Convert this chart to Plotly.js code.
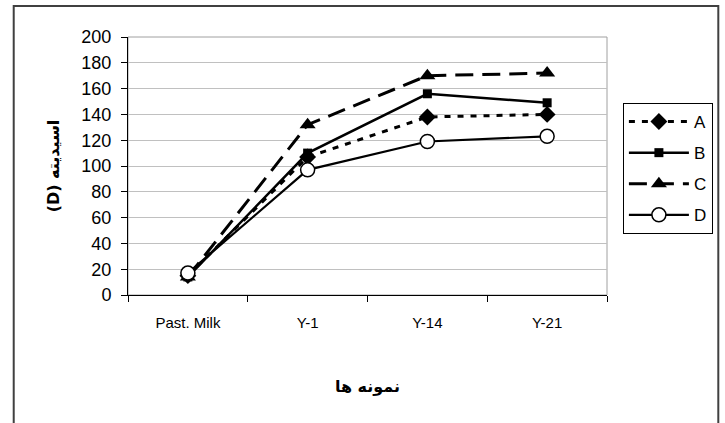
<!DOCTYPE html>
<html>
<head>
<meta charset="utf-8">
<script src="https://cdn.plot.ly/plotly-3.0.1.min.js"></script>
<style>
html,body{margin:0;padding:0;background:#fff;}
#chart{width:725px;height:423px;}
</style>
</head>
<body>
<div id="chart"></div>
<script>
const categories = ['Past. Milk', 'Y-1', 'Y-14', 'Y-21'];
const seriesA = [15, 107, 138, 140];
const seriesB = [14, 110, 156, 149];
const seriesC = [14, 132, 170, 172];
const seriesD = [17, 97, 119, 123];
const yTicks = [0, 20, 40, 60, 80, 100, 120, 140, 160, 180, 200];

const L = 128, R = 610, T = 37, B = 295, W = 725, H = 423;
const px = v => (v - L) / (R - L);
const py = v => (B - v) / (B - T);

const traces = [
  {name: 'A', y: seriesA, line: {color: '#000', width: 3, dash: '6px,7px'},
   marker: {symbol: 'diamond', size: 13, color: '#000'}},
  {name: 'B', y: seriesB, line: {color: '#000', width: 2.5, dash: 'solid'},
   marker: {symbol: 'square', size: 9, color: '#000'}},
  {name: 'C', y: seriesC, line: {color: '#000', width: 3, dash: '18px,9px'},
   marker: {symbol: 'triangle-up', size: 14, color: '#000'}},
  {name: 'D', y: seriesD, line: {color: '#000', width: 2.2, dash: 'solid'},
   marker: {symbol: 'circle', size: 14, color: '#fff', line: {color: '#000', width: 1.5}}}
].map((t, i) => Object.assign({
  type: 'scatter', mode: 'lines+markers', x: categories, legendgroup: 'g' + i
}, t));

const layout = {
  width: W, height: H,
  margin: {l: L, r: W - R, t: T, b: H - B},
  paper_bgcolor: '#fff', plot_bgcolor: '#fff',
  font: {family: 'Liberation Sans, Arial, sans-serif', color: '#000'},
  showlegend: true,
  legend: {
    x: px(626), y: py(103), xanchor: 'left', yanchor: 'top',
    bordercolor: '#000', borderwidth: 1, bgcolor: '#fff',
    font: {size: 17, color: '#000'}, tracegroupgap: 6, itemwidth: 60
  },
  xaxis: {
    type: 'category', range: [-0.5, 3.5], tickson: 'boundaries',
    ticks: 'outside', ticklen: 6, tickcolor: '#000', tickwidth: 1,
    showline: true, linecolor: '#000', linewidth: 1,
    showgrid: false, zeroline: false,
    tickfont: {size: 15}, ticklabelstandoff: 14,
    title: {text: '<b>نمونه ها</b>', font: {size: 16, family: 'DejaVu Sans, sans-serif'}, standoff: 50}
  },
  yaxis: {
    range: [0, 200], tickvals: yTicks, ticktext: yTicks.map(String),
    ticks: 'outside', ticklen: 6, tickcolor: '#000', tickwidth: 1,
    showline: true, linecolor: '#000', linewidth: 1,
    showgrid: true, gridcolor: '#c0c0c0', gridwidth: 1, zeroline: false,
    tickfont: {size: 18}, ticklabelstandoff: 6,
    title: {text: '<b>(D) اسیدیته</b>', font: {size: 16, family: 'DejaVu Sans, sans-serif'}, standoff: 17}
  },
  shapes: [
    {type: 'rect', xref: 'paper', yref: 'paper', x0: 0, x1: 1, y0: 0, y1: 1,
     line: {color: '#a0a0a0', width: 1}, layer: 'below'},
    {type: 'rect', xref: 'paper', yref: 'paper', x0: px(13), x1: px(722), y0: py(440), y1: py(6),
     line: {color: '#404040', width: 2}, layer: 'below'}
  ]
};

Plotly.newPlot('chart', traces, layout, {displayModeBar: false, staticPlot: true});
</script>
</body>
</html>
